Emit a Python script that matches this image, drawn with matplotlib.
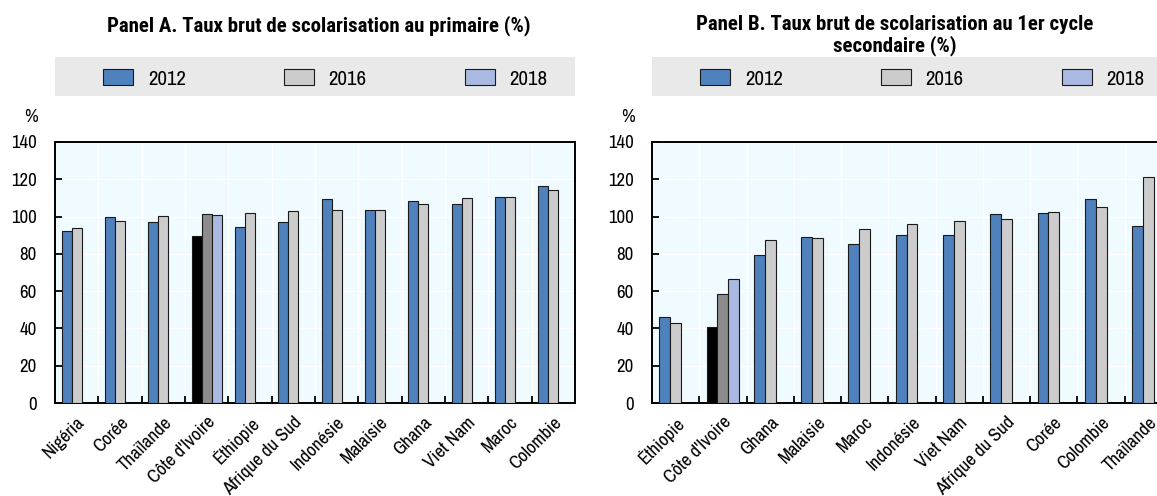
import numpy as np
import matplotlib
matplotlib.use("Agg")
import matplotlib.pyplot as plt
from matplotlib.patches import Patch, Rectangle

plt.rcParams['font.family'] = ['Archivo Narrow', 'Liberation Sans', 'DejaVu Sans']
title_font = ['Roboto Condensed', 'IBM Plex Sans Condensed', 'DejaVu Sans']

nan = np.nan
years = ['2012', '2016', '2018']

# Panel A : primaire
pays_a = ['Nigéria', 'Corée', 'Thaïlande', "Côte d'Ivoire", 'Éthiopie', 'Afrique du Sud',
          'Indonésie', 'Malaisie', 'Ghana', 'Viet Nam', 'Maroc', 'Colombie']
a_2012 = [92.1, 99.6, 96.9, 89.4, 94.6, 96.9, 109.2, 103.5, 108.1, 106.9, 110.4, 116.5]
a_2016 = [94.0, 97.6, 100.5, 101.2, 101.9, 102.8, 103.5, 103.5, 106.5, 109.9, 110.3, 114.0]
a_2018 = [nan, nan, nan, 100.6, nan, nan, nan, nan, nan, nan, nan, nan]

# Panel B : 1er cycle secondaire
pays_b = ['Éthiopie', "Côte d'Ivoire", 'Ghana', 'Malaisie', 'Maroc', 'Indonésie',
          'Viet Nam', 'Afrique du Sud', 'Corée', 'Colombie', 'Thaïlande']
b_2012 = [46.1, 41.0, 79.3, 88.9, 85.1, 90.3, 90.3, 101.2, 101.7, 109.5, 95.1]
b_2016 = [43.1, 58.4, 87.6, 88.7, 93.2, 96.2, 97.8, 98.9, 102.2, 105.4, 121.1]
b_2018 = [nan, 66.4, nan, nan, nan, nan, nan, nan, nan, nan, nan]

highlight = "Côte d'Ivoire"
col_norm = ['#4f81bd', '#cccccc', '#a9b9e2']
col_hl = ['#000000', '#8c8c8c', '#a9b9e2']
bg = '#f0fbff'
edge = '#1a1a1a'

fig = plt.figure(figsize=(11.57, 4.96), dpi=100)
ax_a = fig.add_axes([55 / 1157, 93 / 496, 520 / 1157, 261 / 496])
ax_b = fig.add_axes([652 / 1157, 93 / 496, 520 / 1157, 261 / 496])


def panel(ax, pays, series):
    x = np.arange(len(pays))
    w = 0.23
    for i, vals in enumerate(series):
        cols = [col_hl[i] if p == highlight else col_norm[i] for p in pays]
        ax.bar(x + (i - 1) * w, vals, w, color=cols, edgecolor=edge, linewidth=0.8, zorder=3)
    ax.set_facecolor(bg)
    ax.set_xlim(-0.5, len(pays) - 0.5)
    ax.set_ylim(0, 140)
    ax.set_yticks(range(0, 141, 20))
    ax.set_xticks(x)
    ax.set_xticklabels(pays, rotation=45, ha='right', rotation_mode='anchor', fontsize=13.5)
    ax.set_xticks(np.arange(0.5, len(pays) - 0.5), minor=True)
    ax.tick_params(axis='x', which='major', length=0, pad=8)
    ax.tick_params(axis='x', which='minor', direction='in', length=5, width=1.3, top=False)
    ax.tick_params(axis='y', direction='in', length=5, width=1.3, pad=13, labelsize=13.5)
    ax.grid(axis='y', which='major', color='white', linewidth=1, zorder=0)
    ax.grid(axis='x', which='minor', color='white', linewidth=1, zorder=0)
    ax.set_axisbelow(True)
    for s in ax.spines.values():
        s.set_linewidth(1.4)
    ax.text(-0.033, 1.096, '%', transform=ax.transAxes, ha='right', va='center', fontsize=13.5)

    # bandeau de légende
    ax.add_patch(Rectangle((0, 1.176), 1, 0.149, transform=ax.transAxes, facecolor='#e9e9e9',
                           edgecolor='none', clip_on=False, zorder=0))
    handles = [Patch(facecolor=c, edgecolor=edge, linewidth=0.8) for c in col_norm]
    ax.legend(handles, years, ncol=3, loc='center', bbox_to_anchor=(0.52, 1.241),
              frameon=False, fontsize=15, handlelength=1.45, handleheight=0.8,
              handletextpad=0.7, columnspacing=4.7, borderaxespad=0)


panel(ax_a, pays_a, [a_2012, a_2016, a_2018])
panel(ax_b, pays_b, [b_2012, b_2016, b_2018])

fig.text(319 / 1157, 1 - 15 / 496, 'Panel A. Taux brut de scolarisation au primaire (%)',
         ha='center', va='top', fontsize=15, fontweight='bold', family=title_font)
fig.text(895 / 1157, 1 - 15 / 496, 'Panel B. Taux brut de scolarisation au 1er cycle\nsecondaire (%)',
         ha='center', va='top', fontsize=15, fontweight='bold', linespacing=1.06, family=title_font)

fig.savefig('out.png', dpi=100)
